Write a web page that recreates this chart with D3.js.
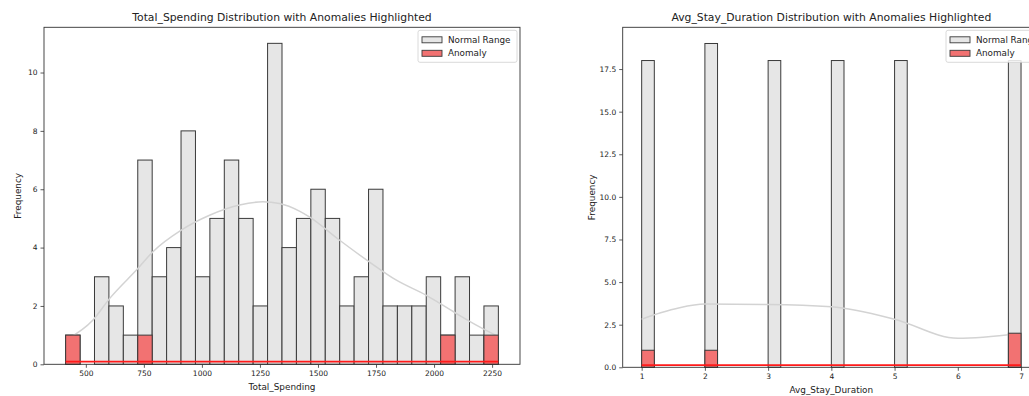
<!DOCTYPE html>
<html>
<head>
<meta charset="utf-8">
<script src="https://cdn.jsdelivr.net/npm/d3@7"></script>
<style>
  body { margin: 0; background: #fff; }
  text { font-family: "DejaVu Sans", sans-serif; fill: #222; }
</style>
</head>
<body>
<div id="chart"></div>
<script>
// Total_Spending histogram (30 bins between the min and max value)
const spendRange = [413, 2277];
const spendNormal = [1, 0, 3, 2, 1, 7, 3, 4, 8, 3, 5, 7, 5, 2, 11, 4, 5, 6, 5, 2, 3, 6, 2, 2, 2, 3, 1, 3, 1, 2];
const spendAnomaly = [1, 0, 0, 0, 0, 1, 0, 0, 0, 0, 0, 0, 0, 0, 0, 0, 0, 0, 0, 0, 0, 0, 0, 0, 0, 0, 1, 0, 0, 1];
const spendKde = [[413, 0.83], [531, 1.52], [603, 2.26], [725, 3.29], [789, 3.86], [911, 4.6], [1033, 5.11],
  [1162, 5.46], [1262, 5.57], [1334, 5.51], [1420, 5.25], [1463, 5.05], [1592, 4.26], [1721, 3.51],
  [1836, 2.89], [1965, 2.37], [2094, 1.75], [2194, 1.29], [2277, 0.95]];
const spendAnomalyKde = [[413, 0.09], [2277, 0.09]];
const spendXTicks = [500, 750, 1000, 1250, 1500, 1750, 2000, 2250];
const spendYTicks = [0, 2, 4, 6, 8, 10];

// Avg_Stay_Duration histogram
const stayRange = [1, 7];
const stayNormal = [18, 0, 0, 0, 0, 19, 0, 0, 0, 0, 18, 0, 0, 0, 0, 18, 0, 0, 0, 0, 18, 0, 0, 0, 0, 0, 0, 0, 0, 18];
const stayAnomaly = [1, 0, 0, 0, 0, 1, 0, 0, 0, 0, 0, 0, 0, 0, 0, 0, 0, 0, 0, 0, 0, 0, 0, 0, 0, 0, 0, 0, 0, 2];
const stayKde = [[1, 2.82], [1.3, 3.2], [1.6, 3.5], [2, 3.71], [3, 3.69], [4, 3.55], [5, 2.82], [6, 1.7], [7, 1.99]];
const stayAnomalyKde = [[1, 0.13], [7, 0.13]];
const stayXTicks = [1, 2, 3, 4, 5, 6, 7];
const stayYTicks = [0, 2.5, 5, 7.5, 10, 12.5, 15, 17.5];

const svg = d3.select("#chart").append("svg")
  .attr("width", 1029)
  .attr("height", 396);

function drawPanel(p) {
  const n = p.normal.length;
  const step = (p.range[1] - p.range[0]) / n;
  const pad = (p.range[1] - p.range[0]) * 0.05;
  const yMax = d3.max(p.normal) * 1.05;

  const x = d3.scaleLinear().domain([p.range[0] - pad, p.range[1] + pad]).range([p.left, p.right]);
  const y = d3.scaleLinear().domain([0, yMax]).range([p.bottom, p.top]);

  const g = svg.append("g");

  const bins = p.normal.map((c, i) => ({ x0: p.range[0] + i * step, x1: p.range[0] + (i + 1) * step, c: c, a: p.anomaly[i] }));

  // normal range bars
  g.append("g").selectAll("rect")
    .data(bins.filter(d => d.c > 0))
    .join("rect")
    .attr("x", d => x(d.x0))
    .attr("y", d => y(d.c))
    .attr("width", d => x(d.x1) - x(d.x0))
    .attr("height", d => y(0) - y(d.c))
    .attr("fill", "#e6e6e6")
    .attr("stroke", "#3a3a3a")
    .attr("stroke-width", 1);

  // kde of all values
  g.append("path")
    .datum(p.kde)
    .attr("fill", "none")
    .attr("stroke", "#d3d3d3")
    .attr("stroke-width", 1.5)
    .attr("d", d3.line().curve(d3.curveMonotoneX).x(d => x(d[0])).y(d => y(d[1])));

  // anomaly bars
  g.append("g").selectAll("rect")
    .data(bins.filter(d => d.a > 0))
    .join("rect")
    .attr("x", d => x(d.x0))
    .attr("y", d => y(d.a))
    .attr("width", d => x(d.x1) - x(d.x0))
    .attr("height", d => y(0) - y(d.a))
    .attr("fill", "#f27272")
    .attr("stroke", "#3a3a3a")
    .attr("stroke-width", 1);

  g.append("path")
    .datum(p.anomalyKde)
    .attr("fill", "none")
    .attr("stroke", "#ff1a1a")
    .attr("stroke-width", 1.6)
    .attr("d", d3.line().x(d => x(d[0])).y(d => y(d[1])));

  // axes
  const xAxis = g.append("g")
    .attr("transform", `translate(0,${p.bottom})`)
    .call(d3.axisBottom(x).tickValues(p.xTicks).tickSize(3.5).tickPadding(3).tickFormat(d3.format("d")));
  const yAxis = g.append("g")
    .attr("transform", `translate(${p.left},0)`)
    .call(d3.axisLeft(y).tickValues(p.yTicks).tickSize(3.5).tickPadding(3).tickFormat(p.yFormat));
  [xAxis, yAxis].forEach(a => {
    a.select(".domain").remove();
    a.selectAll("line").attr("stroke", "#333").attr("stroke-width", 0.8);
    a.selectAll("text").attr("font-size", 7.5).attr("fill", "#222").style("font-family", "DejaVu Sans");
  });

  g.append("rect")
    .attr("x", p.left).attr("y", p.top)
    .attr("width", p.right - p.left).attr("height", p.bottom - p.top)
    .attr("fill", "none").attr("stroke", "#333").attr("stroke-width", 0.9);

  g.append("text")
    .attr("x", (p.left + p.right) / 2).attr("y", 21)
    .attr("text-anchor", "middle").attr("font-size", 10.8)
    .text(p.title);
  g.append("text")
    .attr("x", (p.left + p.right) / 2).attr("y", p.bottom + 26)
    .attr("text-anchor", "middle").attr("font-size", 8.9)
    .text(p.xLabel);
  g.append("text")
    .attr("transform", `translate(${p.yLabelX},${(p.top + p.bottom) / 2}) rotate(-90)`)
    .attr("text-anchor", "middle").attr("font-size", 8.9)
    .text("Frequency");

  // legend
  const lg = g.append("g").attr("transform", `translate(${p.legendX},${p.top + 3})`);
  lg.append("rect")
    .attr("width", 99).attr("height", 32).attr("rx", 2)
    .attr("fill", "rgba(255,255,255,0.85)").attr("stroke", "#d0d0d0").attr("stroke-width", 0.8);
  const items = [{ label: "Normal Range", fill: "#e6e6e6" }, { label: "Anomaly", fill: "#f27272" }];
  items.forEach((it, i) => {
    lg.append("rect")
      .attr("x", 4).attr("y", 6.5 + i * 13.5).attr("width", 20).attr("height", 6)
      .attr("fill", it.fill).attr("stroke", "#3a3a3a").attr("stroke-width", 0.9);
    lg.append("text")
      .attr("x", 30).attr("y", 12.5 + i * 13.5)
      .attr("font-size", 8.8)
      .text(it.label);
  });
}

drawPanel({
  title: "Total_Spending Distribution with Anomalies Highlighted",
  xLabel: "Total_Spending",
  range: spendRange, normal: spendNormal, anomaly: spendAnomaly,
  kde: spendKde, anomalyKde: spendAnomalyKde,
  xTicks: spendXTicks, yTicks: spendYTicks, yFormat: d3.format("d"),
  left: 44, right: 520, top: 27.3, bottom: 364.3,
  yLabelX: 20.5, legendX: 418
});

drawPanel({
  title: "Avg_Stay_Duration Distribution with Anomalies Highlighted",
  xLabel: "Avg_Stay_Duration",
  range: stayRange, normal: stayNormal, anomaly: stayAnomaly,
  kde: stayKde, anomalyKde: stayAnomalyKde,
  xTicks: stayXTicks, yTicks: stayYTicks, yFormat: d3.format(".1f"),
  left: 622.7, right: 1040, top: 27.3, bottom: 367.3,
  yLabelX: 595, legendX: 946
});
</script>
</body>
</html>
